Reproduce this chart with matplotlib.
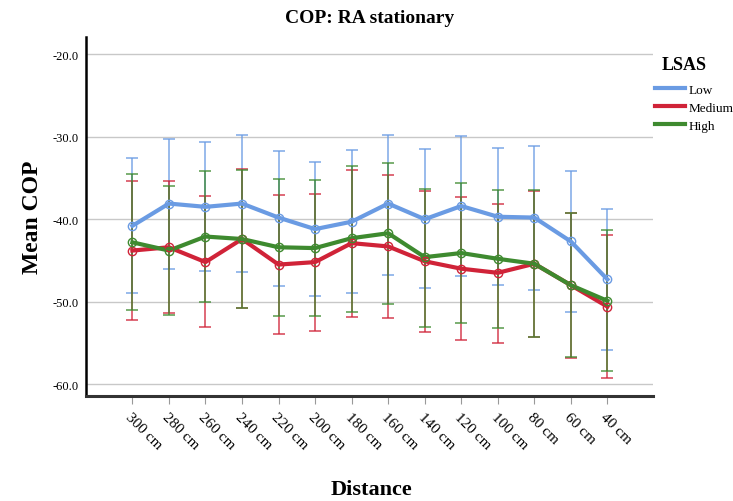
import matplotlib
matplotlib.use('Agg')
import matplotlib.pyplot as plt
from matplotlib.lines import Line2D
import numpy as np

plt.rcParams['font.family'] = ['Liberation Serif', 'DejaVu Serif']

distances = ['300 cm', '280 cm', '260 cm', '240 cm', '220 cm', '200 cm', '180 cm',
             '160 cm', '140 cm', '120 cm', '100 cm', '80 cm', '60 cm', '40 cm']

# means and error bar ends
low_mean = [-40.8, -38.1, -38.5, -38.1, -39.8, -41.2, -40.3, -38.1, -40.0, -38.4, -39.7, -39.8, -42.7, -47.3]
low_top = [-32.6, -30.3, -30.6, -29.8, -31.7, -33.1, -31.6, -29.8, -31.5, -29.9, -31.4, -31.1, -34.2, -38.8]
low_bot = [-49.0, -46.0, -46.3, -46.4, -48.1, -49.3, -49.0, -46.8, -48.3, -46.9, -48.0, -48.6, -51.3, -55.8]

med_mean = [-43.8, -43.4, -45.2, -42.4, -45.5, -45.2, -42.9, -43.3, -45.1, -46.0, -46.5, -45.4, -48.0, -50.6]
med_top = [-35.4, -35.4, -37.2, -33.9, -37.1, -36.9, -34.0, -34.6, -36.6, -37.3, -38.1, -36.6, -39.3, -41.9]
med_bot = [-52.2, -51.4, -53.1, -50.8, -53.9, -53.5, -51.9, -52.0, -53.7, -54.6, -55.0, -54.3, -56.8, -59.3]

high_mean = [-42.8, -43.8, -42.1, -42.4, -43.4, -43.5, -42.3, -41.7, -44.6, -44.1, -44.8, -45.4, -48.0, -49.9]
high_top = [-34.5, -36.0, -34.2, -34.0, -35.1, -35.3, -33.6, -33.2, -36.3, -35.6, -36.4, -36.5, -39.3, -41.3]
high_bot = [-51.0, -51.6, -50.0, -50.8, -51.7, -51.7, -51.2, -50.3, -53.1, -52.6, -53.2, -54.3, -56.7, -58.4]

groups = ['Low', 'Medium', 'High']
colors = ['#6a9be3', '#d02338', '#3e8a2f']

fig = plt.figure(figsize=(7.33, 5.02), dpi=100)
ax = fig.add_axes([0.1173, 0.2098, 0.7737, 0.7145])

x = np.arange(len(distances))
series = [(low_mean, low_top, low_bot), (med_mean, med_top, med_bot), (high_mean, high_top, high_bot)]
for (m, t, b), c in zip(series, colors):
    m = np.array(m); t = np.array(t); b = np.array(b)
    ax.errorbar(x, m, yerr=[m - b, t - m], fmt='none', ecolor=c, elinewidth=1.2,
                capsize=4, capthick=1.2, alpha=0.8, zorder=3)
    ax.plot(x, m, color=c, lw=3, zorder=4, solid_joinstyle='round')
    ax.plot(x, m, 'o', mfc='none', mec=c, ms=6, mew=1, zorder=5)

ax.set_xlim(-1.27, 14.25)
ax.set_ylim(-61.4, -17.9)
ax.set_yticks([-60, -50, -40, -30, -20])
ax.set_yticklabels(['-60.0', '-50.0', '-40.0', '-30.0', '-20.0'], fontsize=9)
ax.yaxis.grid(True, color='#c8c8c8', lw=1)
ax.set_axisbelow(True)
ax.tick_params(axis='y', length=0, pad=5)
ax.set_xticks(x)
ax.set_xticklabels(distances, rotation=-45, ha='left', rotation_mode='anchor', fontsize=11)
ax.tick_params(axis='x', length=6, color='#999999', pad=4)

for s in ['top', 'right']:
    ax.spines[s].set_visible(False)
ax.spines['left'].set_linewidth(1.8)
ax.spines['bottom'].set_linewidth(2.2)
ax.spines['bottom'].set_color('#333333')

ax.set_title('COP: RA stationary', fontsize=14, fontweight='bold', pad=11)
ax.set_ylabel('Mean COP', fontsize=17, fontweight='bold', labelpad=7)
fig.text(0.5075, 0.013, 'Distance', ha='center', fontsize=16, fontweight='bold')

# legend title drawn on its own so the gap above the entries matches
fig.text(0.903, 0.87, 'LSAS', ha='left', va='center', fontsize=13, fontweight='bold')
handles = [Line2D([0], [0], color=c, lw=3) for c in colors]
fig.legend(handles, groups, loc='upper left', bbox_to_anchor=(0.893, 0.832),
           frameon=False, fontsize=9.5, handlelength=2.3, handletextpad=0.3,
           labelspacing=0.45, borderaxespad=0, borderpad=0)

fig.savefig('out.png', dpi=100)
